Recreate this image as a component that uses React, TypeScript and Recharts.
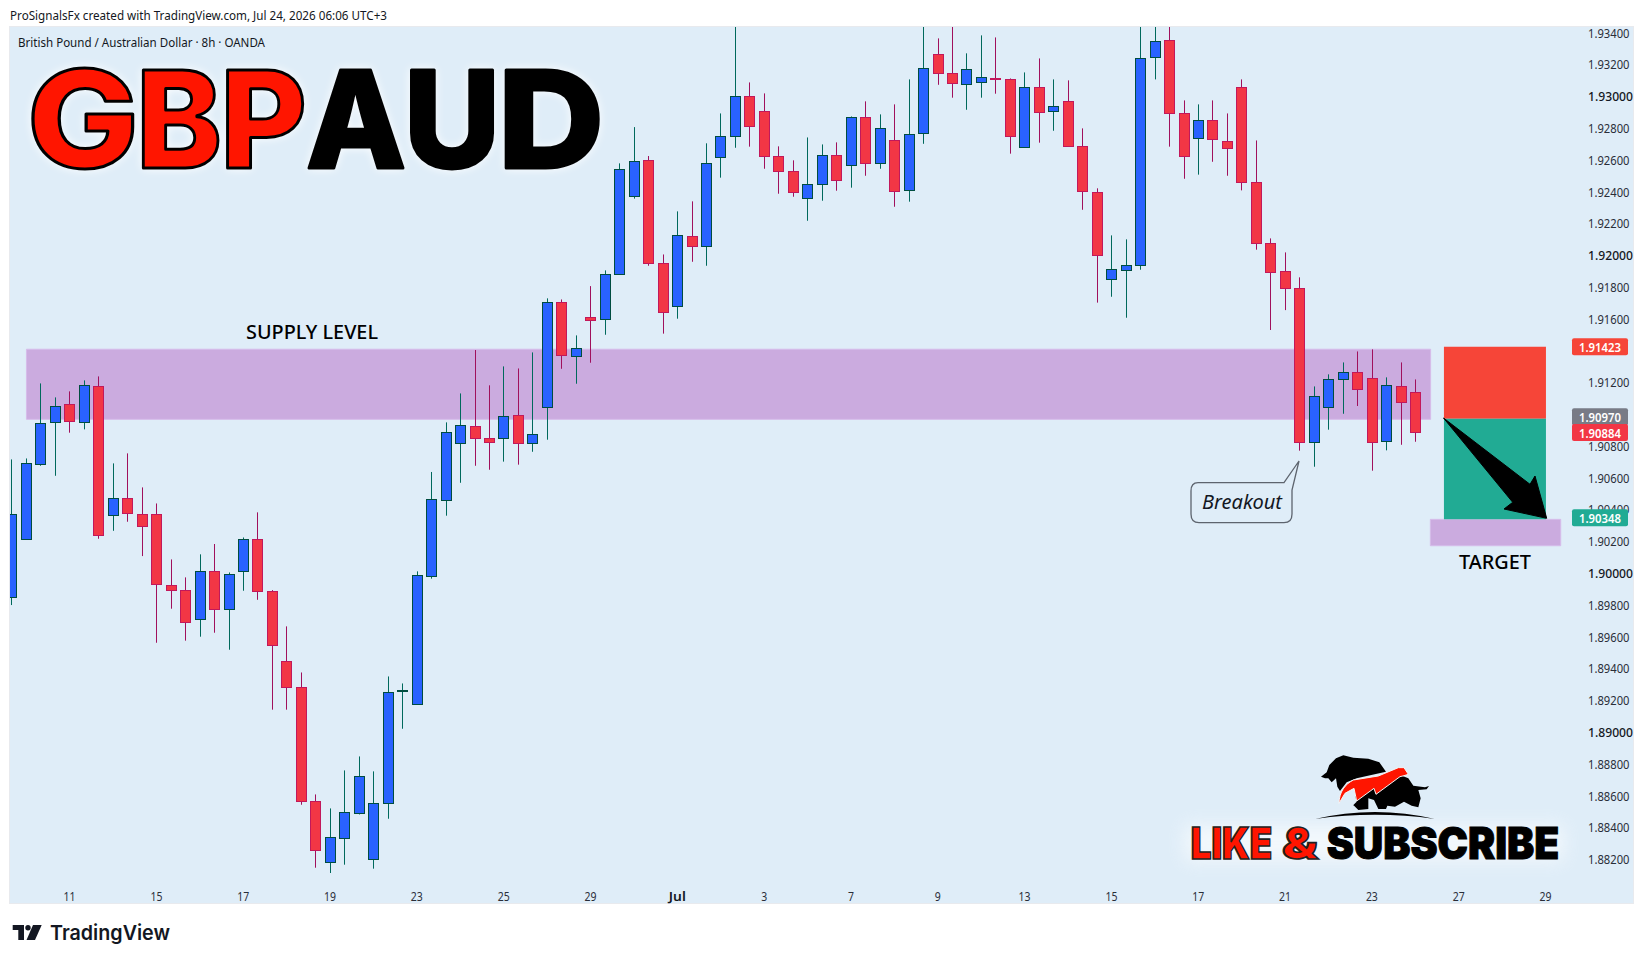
import { Bar, ComposedChart, ReferenceArea, ReferenceLine, XAxis, YAxis } from 'recharts'

// GBPAUD 8h
const opens = [
  1.89847, 1.90212, 1.9069, 1.90948, 1.91065, 1.90954, 1.91179, 1.90363, 1.9047, 1.90369,
  1.90369, 1.89923, 1.89891, 1.89709, 1.90011, 1.89772, 1.90011, 1.90212, 1.89885, 1.89445,
  1.89281, 1.88564, 1.8818, 1.88331, 1.88489, 1.88199, 1.88552, 1.89256, 1.89174, 1.89979,
  1.90463, 1.90816, 1.90923, 1.90847, 1.90847, 1.90992, 1.90816, 1.91042, 1.91703, 1.91363,
  1.91608, 1.91596, 1.91879, 1.92369, 1.92596, 1.91948, 1.91677, 1.92118, 1.92055, 1.92615,
  1.92747, 1.92998, 1.92904, 1.92621, 1.92526, 1.92357, 1.92445, 1.92627, 1.92564, 1.92866,
  1.92577, 1.92721, 1.92407, 1.92765, 1.93262, 1.93143, 1.93074, 1.93086, 1.93111, 1.93105,
  1.92677, 1.93055, 1.92904, 1.92967, 1.92684, 1.92394, 1.91847, 1.91904, 1.91935, 1.93243,
  1.9335, 1.92891, 1.92734, 1.92847, 1.92715, 1.93055, 1.92457, 1.92074, 1.91898, 1.91791,
  1.90822, 1.91042, 1.91218, 1.91262, 1.91225, 1.90828, 1.91174, 1.91137,
]
const highs = [
  1.90715, 1.90721, 1.91193, 1.91105, 1.91143, 1.91212, 1.91237, 1.9069, 1.90753, 1.90539,
  1.90438, 1.90086, 1.89973, 1.90118, 1.90183, 1.90004, 1.90224, 1.90382, 1.89893, 1.89665,
  1.89375, 1.88608, 1.8852, 1.88759, 1.88847, 1.88753, 1.8935, 1.89306, 1.90011, 1.90636,
  1.90948, 1.9113, 1.91403, 1.91181, 1.913, 1.91287, 1.91388, 1.91728, 1.91721, 1.91495,
  1.91805, 1.91904, 1.92577, 1.92805, 1.92623, 1.92004, 1.92275, 1.92338, 1.92703, 1.92891,
  1.9345, 1.93086, 1.93017, 1.92684, 1.92596, 1.9274, 1.92696, 1.92709, 1.92872, 1.92967,
  1.92885, 1.92948, 1.93105, 1.9345, 1.93363, 1.9345, 1.93269, 1.93382, 1.93369, 1.93111,
  1.93149, 1.93237, 1.93105, 1.93099, 1.92797, 1.9242, 1.92124, 1.92099, 1.9345, 1.9345,
  1.9345, 1.92973, 1.92948, 1.92973, 1.92891, 1.93105, 1.92721, 1.92105, 1.92017, 1.9186,
  1.91174, 1.9125, 1.91325, 1.91394, 1.91407, 1.91231, 1.91325, 1.91218,
]
const lows = [
  1.89799, 1.90212, 1.90675, 1.90612, 1.90883, 1.90904, 1.90216, 1.90266, 1.90323, 1.90107,
  1.89562, 1.89776, 1.89575, 1.896, 1.89625, 1.89518, 1.89889, 1.89832, 1.89141, 1.89141,
  1.88543, 1.88147, 1.88103, 1.88166, 1.88482, 1.88141, 1.88455, 1.89021, 1.89174, 1.89965,
  1.90361, 1.90568, 1.90675, 1.9065, 1.90701, 1.90682, 1.90763, 1.90839, 1.91285, 1.91191,
  1.91323, 1.91499, 1.91879, 1.92355, 1.91933, 1.91506, 1.916, 1.91958, 1.91933, 1.92487,
  1.92675, 1.92682, 1.92543, 1.92386, 1.92367, 1.92216, 1.92342, 1.92405, 1.92424, 1.92499,
  1.92543, 1.92304, 1.92336, 1.927, 1.93071, 1.9299, 1.92914, 1.9299, 1.93015, 1.92638,
  1.92677, 1.92707, 1.92782, 1.92684, 1.92285, 1.91701, 1.91738, 1.91606, 1.91908, 1.93105,
  1.92682, 1.9248, 1.92506, 1.92587, 1.92499, 1.92407, 1.92034, 1.91529, 1.91654, 1.9077,
  1.90669, 1.90902, 1.91002, 1.91051, 1.90644, 1.90772, 1.90807, 1.90826,
]
const closes = [
  1.90369, 1.9069, 1.90946, 1.91049, 1.90958, 1.91185, 1.90243, 1.9047, 1.90375, 1.90294,
  1.89929, 1.89891, 1.8969, 1.90011, 1.89772, 1.89992, 1.90212, 1.89885, 1.89545, 1.89281,
  1.88564, 1.88256, 1.88338, 1.88495, 1.88721, 1.88552, 1.8925, 1.89262, 1.89985, 1.90463,
  1.90889, 1.90929, 1.90847, 1.90822, 1.90986, 1.90816, 1.90872, 1.91703, 1.91369, 1.91413,
  1.91589, 1.91879, 1.92539, 1.92589, 1.91948, 1.9164, 1.92124, 1.92055, 1.92577, 1.92747,
  1.92998, 1.9281, 1.92621, 1.92526, 1.92394, 1.92445, 1.92627, 1.9247, 1.92866, 1.92577,
  1.92797, 1.92401, 1.92759, 1.93174, 1.93143, 1.9308, 1.93168, 1.93118, 1.93105, 1.92747,
  1.93055, 1.92898, 1.92935, 1.92684, 1.92401, 1.91998, 1.9191, 1.91935, 1.93237, 1.93344,
  1.92891, 1.92621, 1.92847, 1.92728, 1.92671, 1.92457, 1.92074, 1.91891, 1.91791, 1.9082,
  1.91111, 1.91218, 1.91262, 1.91155, 1.90822, 1.91181, 1.91074, 1.90884,
]

const candles = opens.map((open, i) => ({ idx: i, open, high: highs[i], low: lows[i], close: closes[i] }))

const dateTicks = [4, 10, 16, 22, 28, 34, 40, 46, 52, 58, 64, 70, 76, 82, 88, 94, 100, 106]
const dateLabels = ['11', '15', '17', '19', '23', '25', '29', 'Jul', '3', '7', '9', '13', '15', '17', '21', '23', '27', '29']
// 1.910 and 1.914 sit fully behind the price badges, so they are not listed
const priceTicks = [
  1.882, 1.884, 1.886, 1.888, 1.89, 1.892, 1.894, 1.896, 1.898, 1.9, 1.902, 1.904, 1.906, 1.908,
  1.912, 1.916, 1.918, 1.92, 1.922, 1.924, 1.926, 1.928, 1.93, 1.932, 1.934,
]

const supplyZone = { from: 1.02, to: 98.06, top: 1.91408, bottom: 1.90967 }
const targetZone = { from: 98.04, to: 107.05, top: 1.90338, bottom: 1.90172 }
const position = { from: 98.98, to: 106.03, stop: 1.91423, entry: 1.9097, target: 1.90348 }
const lastClose = 1.90884

const xDomain = [-0.117, 107.83]
const yDomain = [1.881138, 1.934346]

const BG = '#dfedf8'
const INK = '#131722'
const UI_FONT = '"Noto Sans", sans-serif'
const LOGO_FONT = 'Inter, "Liberation Sans", sans-serif'

const CandleShape = (props: any) => {
  const { x, y, width, height, payload } = props
  const { open, high, low, close } = payload
  const up = close >= open
  const perPrice = height / (high - low)
  const cx = Math.round(x + width / 2) + 0.5
  const top = y + (high - Math.max(open, close)) * perPrice
  const bodyH = Math.max(Math.abs(open - close) * perPrice, 1)
  return (
    <g>
      <line x1={cx} x2={cx} y1={y} y2={y + height} stroke={up ? '#00695c' : '#a0105c'} strokeWidth={1} />
      <rect
        x={cx - 5}
        y={Math.round(top) + 0.5}
        width={10}
        height={Math.max(Math.round(bodyH), 1)}
        fill={up ? '#2962ff' : '#f23645'}
        stroke={up ? '#004d40' : '#c2185b'}
        strokeWidth={1}
      />
    </g>
  )
}

const PriceTick = (props: any) => {
  const { x, y, payload } = props
  const major = Math.abs(payload.value * 100 - Math.round(payload.value * 100)) < 1e-6
  return (
    <text
      x={x + 8}
      y={y}
      dominantBaseline="central"
      fontFamily={UI_FONT}
      fontSize={13}
      fontWeight={major ? 500 : 400}
      fill={major ? INK : '#2a2e39'}
      textLength={major ? 45 : 41.5}
      lengthAdjust="spacingAndGlyphs"
    >
      {payload.value.toFixed(5)}
    </text>
  )
}

const DateTick = (props: any) => {
  const { x, y, payload } = props
  const label = dateLabels[dateTicks.indexOf(payload.value)]
  const bold = label === 'Jul'
  return (
    <text
      x={x}
      y={y + 15}
      textAnchor="middle"
      dominantBaseline="central"
      fontFamily={UI_FONT}
      fontSize={13}
      fontWeight={bold ? 600 : 400}
      fill={bold ? INK : '#2a2e39'}
      textLength={bold ? 17 : label.length * 6}
      lengthAdjust="spacingAndGlyphs"
    >
      {label}
    </text>
  )
}

const PriceBadge = (props: any) => {
  const { viewBox, color, text, shift = 0 } = props
  const cy = viewBox.y + shift
  const left = viewBox.x + viewBox.width
  return (
    <g>
      <rect x={left} y={cy - 8.5} width={56} height={17} rx={2} fill={color} />
      <text
        x={left + 28}
        y={cy}
        textAnchor="middle"
        dominantBaseline="central"
        fontFamily={UI_FONT}
        fontSize={13}
        fontWeight={600}
        fill="#fff"
        textLength={42}
        lengthAdjust="spacingAndGlyphs"
      >
        {text}
      </text>
    </g>
  )
}

const titleLetters = [
  { ch: 'G', x: 27, w: 112, fill: '#ff1500' },
  { ch: 'B', x: 136, w: 86, fill: '#ff1500' },
  { ch: 'P', x: 220, w: 87, fill: '#ff1500' },
  { ch: 'A', x: 306, w: 100, fill: '#000' },
  { ch: 'U', x: 404, w: 96, fill: '#000' },
  { ch: 'D', x: 498, w: 106, fill: '#000' },
]

const Overlay = () => (
  <svg width={1643} height={963} style={{ position: 'absolute', left: 0, top: 0, pointerEvents: 'none' }}>
    <defs>
      <filter id="likeGlow" x="-10%" y="-50%" width="120%" height="200%">
        <feGaussianBlur stdDeviation="9" />
      </filter>
    </defs>

    <text x={10} y={15} dominantBaseline="central" fontFamily={UI_FONT} fontSize={13} fill={INK} textLength={377} lengthAdjust="spacingAndGlyphs">
      ProSignalsFx created with TradingView.com, Jul 24, 2026 06:06 UTC+3
    </text>
    <text x={18} y={42} dominantBaseline="central" fontFamily={UI_FONT} fontSize={13} fill={INK} textLength={247} lengthAdjust="spacingAndGlyphs">
      British Pound / Australian Dollar · 8h · OANDA
    </text>

    <g style={{ filter: 'drop-shadow(0 0 5px rgba(255,255,255,0.95))' }}>
      {titleLetters.map((l) => (
        <text
          key={l.ch}
          x={l.x}
          y={168}
          fontFamily={LOGO_FONT}
          fontSize={135}
          fontWeight={800}
          fill={l.fill}
          stroke="#000"
          strokeWidth={3}
          strokeLinejoin="round"
          textLength={l.w}
          lengthAdjust="spacingAndGlyphs"
        >
          {l.ch}
        </text>
      ))}
    </g>

    <text x={246} y={332} dominantBaseline="central" fontFamily={UI_FONT} fontSize={19} fontWeight={500} fill="#000" textLength={132} lengthAdjust="spacingAndGlyphs">
      SUPPLY LEVEL
    </text>
    <text x={1459} y={562} dominantBaseline="central" fontFamily={UI_FONT} fontSize={19} fontWeight={500} fill="#000" textLength={72} lengthAdjust="spacingAndGlyphs">
      TARGET
    </text>

    <path
      d="M1198,482.7 L1284,482.7 L1299,461 L1292,490 L1292,514 Q1292,522.7 1284,522.7 L1199,522.7 Q1191,522.7 1191,514 L1191,491 Q1191,482.7 1198,482.7 Z"
      fill={BG}
      stroke="#5d646e"
      strokeWidth={1.3}
    />
    <text x={1202} y={502} dominantBaseline="central" fontFamily={UI_FONT} fontSize={19} fontStyle="italic" fill={INK} textLength={80} lengthAdjust="spacingAndGlyphs">
      Breakout
    </text>

    <polygon
      points="1443.5,418 1530,484.3 1535,476 1546.7,518.3 1504,509 1512.7,502.3"
      fill="#000"
      stroke="#000"
      strokeWidth={1}
      strokeLinejoin="round"
    />

    {/* like & subscribe sticker, traced in zoomed units */}
    <rect x={1185} y={825} width={378} height={36} fill="#fff" opacity={0.6} filter="url(#likeGlow)" />
    <g transform="translate(1300,745) scale(0.33333)">
      <path d="M63,95 L80,82 L88,60 L108,40 L130,31 L160,38 L205,41 L238,52 L258,80 L170,100 L140,112 L120,138 L112,125 L108,100 L95,112 L85,100 L75,100 Z" fill="#000" />
      <path d="M300,90 L325,100 L340,122 L375,127 L387,123 L380,133 L355,135 L362,160 L355,187 L335,182 L312,170 L285,185 L262,182 L258,192 L235,192 L222,165 L205,160 L205,192 L175,195 L160,180 L145,195 L170,170 L165,150 Z" fill="#000" />
      <path d="M117,175 C118,140 135,118 160,105 L235,93 L295,68 L312,68 L325,88 L312,92 L300,95 L228,148 L222,130 L170,168 L162,130 L135,145 Z" fill="#ff1500" stroke="#f4f4f4" strokeWidth={3} />
      <path d="M45,222 Q225,180 405,222 Q225,197 45,222 Z" fill="#000" />
    </g>
    <g transform="translate(1150,730) scale(0.33333)">
      <text x={122} y={388} fontFamily={LOGO_FONT} fontSize={132} fontWeight={900} fill="#ff1500" stroke="#222" strokeWidth={5} textLength={245} lengthAdjust="spacingAndGlyphs">LIKE</text>
      <text x={396} y={388} fontFamily={LOGO_FONT} fontSize={132} fontWeight={900} fill="#ff1500" stroke="#222" strokeWidth={5} textLength={108} lengthAdjust="spacingAndGlyphs">&amp;</text>
      <text x={530} y={388} fontFamily={LOGO_FONT} fontSize={132} fontWeight={900} fill="#000" stroke="#000" strokeWidth={3} textLength={698} lengthAdjust="spacingAndGlyphs">SUBSCRIBE</text>
    </g>

    {/* footer logo */}
    <g fill="#131722">
      <path d="M12.7,925 H24 V940 H18.3 V930 H12.7 Z" />
      <circle cx={28} cy={927.7} r={2.7} />
      <polygon points="33,925 41.7,925 35,940 26.5,940" />
    </g>
    <text x={50} y={940} fontFamily={LOGO_FONT} fontSize={20.5} fontWeight={600} fill="#131722" textLength={120} lengthAdjust="spacingAndGlyphs">
      TradingView
    </text>
  </svg>
)

export default function App() {
  return (
    <div style={{ position: 'absolute', left: 0, top: 0, width: 1643, height: 963, background: '#fff', overflow: 'hidden' }}>
      <div style={{ position: 'absolute', left: 9, top: 26, width: 1623, height: 876, background: BG, border: '1px solid #e8eaee' }} />
      <div style={{ position: 'absolute', left: 0, top: 0 }}>
        <ComposedChart width={1643} height={963} data={candles} margin={{ top: 27, right: 10, bottom: 60, left: 10 }}>
          <XAxis
            dataKey="idx"
            type="number"
            domain={xDomain}
            allowDataOverflow
            ticks={dateTicks}
            interval={0}
            tick={<DateTick />}
            axisLine={false}
            tickLine={false}
            height={30}
          />
          <YAxis
            orientation="right"
            type="number"
            domain={yDomain}
            allowDataOverflow
            ticks={priceTicks}
            interval={0}
            tick={<PriceTick />}
            axisLine={false}
            tickLine={false}
            width={61}
          />
          <ReferenceArea x1={supplyZone.from} x2={supplyZone.to} y1={supplyZone.bottom} y2={supplyZone.top} fill="#cbabdf" fillOpacity={1} stroke="#d6bcea" />
          <ReferenceArea x1={targetZone.from} x2={targetZone.to} y1={targetZone.bottom} y2={targetZone.top} fill="#cbabdf" fillOpacity={1} stroke="#d6bcea" />
          <ReferenceArea x1={position.from} x2={position.to} y1={position.entry} y2={position.stop} fill="#f64538" fillOpacity={1} />
          <ReferenceArea x1={position.from} x2={position.to} y1={targetZone.top} y2={position.entry} fill="#21ab94" fillOpacity={1} />
          <Bar dataKey={(d: any) => [d.low, d.high]} shape={<CandleShape />} barSize={10} isAnimationActive={false} />
        </ComposedChart>
      </div>
      {/* second layer with the same plot box: badges have to cover the axis labels */}
      <div style={{ position: 'absolute', left: 0, top: 0 }}>
        <ComposedChart width={1643} height={963} data={candles} margin={{ top: 27, right: 71, bottom: 90, left: 10 }}>
          <XAxis dataKey="idx" type="number" domain={xDomain} hide />
          <YAxis type="number" domain={yDomain} allowDataOverflow hide />
          <ReferenceLine y={position.stop} stroke="none" label={<PriceBadge color="#f64538" text="1.91423" />} />
          <ReferenceLine y={position.entry} stroke="none" label={<PriceBadge color="#787b86" text="1.90970" shift={-2} />} />
          <ReferenceLine y={lastClose} stroke="none" label={<PriceBadge color="#f23645" text="1.90884" />} />
          <ReferenceLine y={position.target} stroke="none" label={<PriceBadge color="#21ab94" text="1.90348" />} />
        </ComposedChart>
      </div>
      <Overlay />
    </div>
  )
}
